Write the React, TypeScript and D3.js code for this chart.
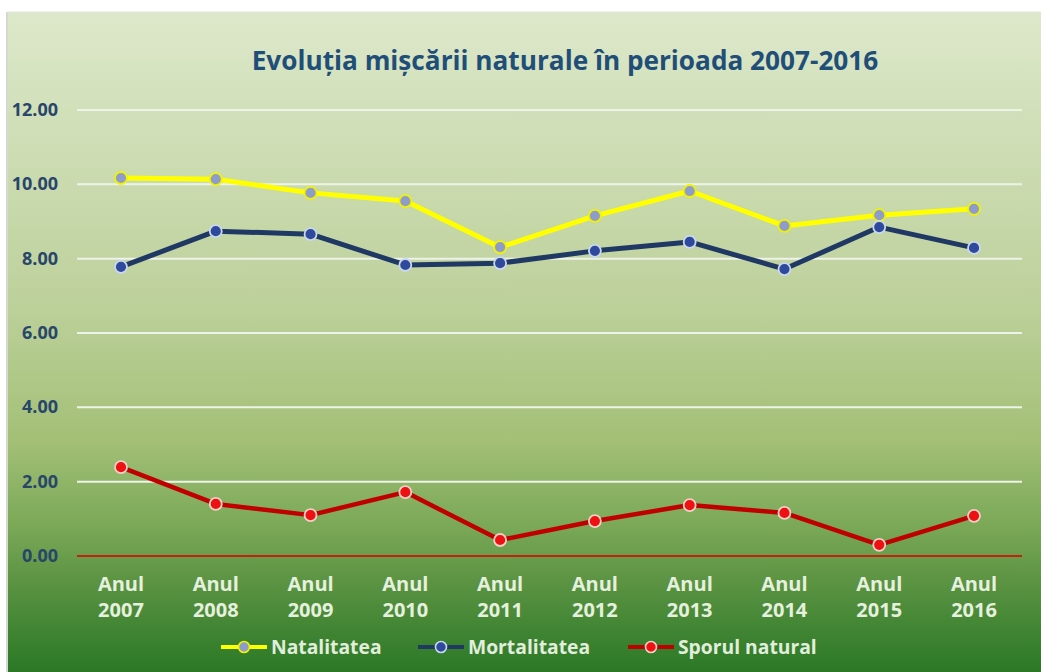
import React from "react";
import * as d3 from "d3";

const years = ["2007", "2008", "2009", "2010", "2011", "2012", "2013", "2014", "2015", "2016"];
const natalitatea = [10.17, 10.14, 9.77, 9.55, 8.31, 9.15, 9.82, 8.88, 9.17, 9.34];
const mortalitatea = [7.78, 8.74, 8.66, 7.83, 7.88, 8.21, 8.45, 7.72, 8.85, 8.29];
const sporul = [2.39, 1.40, 1.10, 1.72, 0.43, 0.94, 1.37, 1.16, 0.30, 1.08];
const yTicks = [0, 2, 4, 6, 8, 10, 12];
const seriesNames = ["Natalitatea", "Mortalitatea", "Sporul natural"];

const W = 1041, H = 672;
const FONT = "'Open Sans', Lato, sans-serif";

export default function App() {
  const x = d3.scaleBand<string>().domain(years).range([73.6, 1021.4]);
  const y = d3.scaleLinear().domain([0, 12]).range([556, 110]);
  const cx = (d: string) => (x(d) as number) + x.bandwidth() / 2;

  const line = d3.line<number>().x((_, i) => cx(years[i])).y((v) => y(v));

  const series = [
    { name: seriesNames[0], data: natalitatea, color: "#ffff00", width: 5, mFill: "#8e9ccc", mStroke: "#f2f200" },
    { name: seriesNames[1], data: mortalitatea, color: "#1f3864", width: 5, mFill: "#2f4a9c", mStroke: "#c9d8ee" },
    { name: seriesNames[2], data: sporul, color: "#c00000", width: 4.5, mFill: "#ee1111", mStroke: "#f4d0c8" },
  ];

  const legendX = [221, 418, 628];

  return (
    <svg width={W} height={H} style={{ position: "absolute", left: 0, top: 0 }} fontFamily={FONT}>
      <defs>
        <linearGradient id="bg" x1="0" y1="0" x2="0" y2="1">
          <stop offset="0" stopColor="#dde8ca" />
          <stop offset="0.45" stopColor="#bcd09a" />
          <stop offset="0.65" stopColor="#a3c076" />
          <stop offset="0.78" stopColor="#7aa857" />
          <stop offset="0.86" stopColor="#5c9443" />
          <stop offset="1" stopColor="#2a7826" />
        </linearGradient>
      </defs>
      <rect x={0} y={0} width={W} height={H} fill="#ffffff" />
      <rect x={7} y={12} width={W - 7} height={H - 12} fill="url(#bg)" />
      <line x1={7} y1={12} x2={7} y2={H} stroke="#d4d8d0" strokeWidth={2} />
      <line x1={7} y1={12} x2={W} y2={12} stroke="#e4e6e0" strokeWidth={1} />

      <text x={565} y={70} textAnchor="middle" fontSize={26.2} fontWeight="bold" fill="#1f4e79">
        Evoluția mișcării naturale în perioada 2007-2016
      </text>

      {yTicks.map((t) => (
        <g key={t}>
          <line
            x1={77}
            x2={1022}
            y1={y(t)}
            y2={y(t)}
            stroke={t === 0 ? "#c8200e" : "#eef3ea"}
            strokeWidth={2}
          />
          <text x={58} y={y(t) + 6} textAnchor="end" fontSize={18} fontWeight="bold" fill="#28466a">
            {t.toFixed(2)}
          </text>
        </g>
      ))}

      {years.map((yr) => (
        <g key={yr}>
          <text x={cx(yr)} y={591} textAnchor="middle" fontSize={20} fontWeight="bold" fill="#e6f0de">
            Anul
          </text>
          <text x={cx(yr)} y={617} textAnchor="middle" fontSize={20} fontWeight="bold" fill="#e6f0de">
            {yr}
          </text>
        </g>
      ))}

      {series.map((s) => (
        <g key={s.name}>
          <path d={line(s.data) || ""} fill="none" stroke={s.color} strokeWidth={s.width} strokeLinejoin="round" />
          {s.data.map((v, i) => (
            <circle key={i} cx={cx(years[i])} cy={y(v)} r={6} fill={s.mFill} stroke={s.mStroke} strokeWidth={1.8} />
          ))}
        </g>
      ))}

      {series.map((s, i) => (
        <g key={"lg" + s.name}>
          <line x1={legendX[i]} x2={legendX[i] + 46} y1={647} y2={647} stroke={s.color} strokeWidth={4} />
          <circle cx={legendX[i] + 23} cy={647} r={5.5} fill={s.mFill} stroke={s.mStroke} strokeWidth={1.6} />
          <text x={legendX[i] + 50} y={654} fontSize={19.3} fontWeight="bold" fill="#e2eedc">
            {s.name}
          </text>
        </g>
      ))}
    </svg>
  );
}
